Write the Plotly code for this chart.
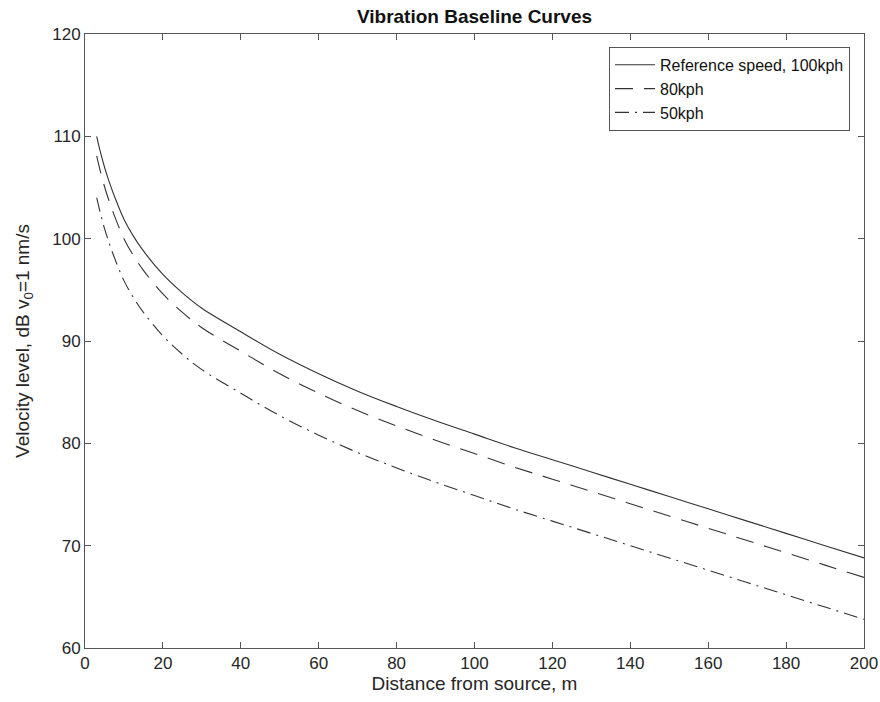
import plotly.graph_objects as go

# Distance from source (m)
distance_m = [3, 4, 5, 6, 7.5, 10, 12.5, 15, 20, 25, 30, 40, 50, 60, 70, 80,
              90, 100, 110, 120, 130, 140, 150, 160, 170, 180, 190, 200]

# Velocity level (dB re 1 nm/s) for each train speed
level_100kph = [110.0, 108.4, 107.0, 105.8, 104.2, 101.9, 100.2, 98.8, 96.5, 94.7,
                93.2, 90.9, 88.7, 86.8, 85.1, 83.6, 82.2, 80.9, 79.6, 78.4,
                77.2, 76.0, 74.8, 73.6, 72.4, 71.2, 70.0, 68.8]
level_80kph = [108.1, 106.5, 105.1, 103.9, 102.3, 100.0, 98.3, 96.9, 94.6, 92.8,
               91.3, 89.0, 86.8, 84.9, 83.2, 81.7, 80.3, 79.0, 77.7, 76.5,
               75.3, 74.1, 72.9, 71.7, 70.5, 69.3, 68.1, 66.9]
level_50kph = [104.0, 102.4, 101.0, 99.8, 98.2, 95.9, 94.2, 92.8, 90.5, 88.7,
               87.2, 84.9, 82.7, 80.8, 79.1, 77.6, 76.2, 74.9, 73.6, 72.4,
               71.2, 70.0, 68.8, 67.6, 66.4, 65.2, 64.0, 62.8]

series_names = ["Reference speed, 100kph", "80kph", "50kph"]
series_values = [level_100kph, level_80kph, level_50kph]
series_dash = ["solid", "18px,11px", "14px,6px,2px,6px"]

FONT = "Liberation Sans, Arial, Helvetica, sans-serif"
INK = "#262626"

fig = go.Figure()
for name, vals, dash in zip(series_names, series_values, series_dash):
    fig.add_trace(go.Scatter(
        x=distance_m, y=vals, name=name, mode="lines",
        line=dict(color="#333333", width=1.1, dash=dash, shape="spline", smoothing=1.0),
    ))

axis_common = dict(
    showline=True, linecolor="#555555", linewidth=1, mirror="ticks",
    ticks="inside", ticklen=6, tickcolor="#555555", tickwidth=1,
    showgrid=False, zeroline=False, automargin=False,
    tickfont=dict(family=FONT, size=17, color=INK),
)

fig.update_layout(
    width=880, height=702,
    margin=dict(l=85, r=16, t=34, b=54),
    paper_bgcolor="white", plot_bgcolor="white",
    font=dict(family=FONT, color=INK),
    title=dict(text="<b>Vibration Baseline Curves</b>", x=0.5, xref="paper",
               y=0.976, yref="container", yanchor="middle", xanchor="center",
               font=dict(family=FONT, size=19, color="#111111")),
    xaxis=dict(range=[0, 200], dtick=20,
               title=dict(text="Distance from source, m", standoff=3,
                          font=dict(family=FONT, size=19, color=INK)),
               **axis_common),
    yaxis=dict(range=[60, 120], dtick=10,
               title=dict(text="Velocity level, dB v<sub>0</sub>=1 nm/s", standoff=17,
                          font=dict(family=FONT, size=19, color=INK)),
               **axis_common),
    legend=dict(x=0.982, y=0.979, xanchor="right", yanchor="top",
                bgcolor="white", bordercolor="#555555", borderwidth=1,
                font=dict(family=FONT, size=16, color="#111111"),
                tracegroupgap=0, itemwidth=40),
    showlegend=True,
)

fig.write_html("out.html")
